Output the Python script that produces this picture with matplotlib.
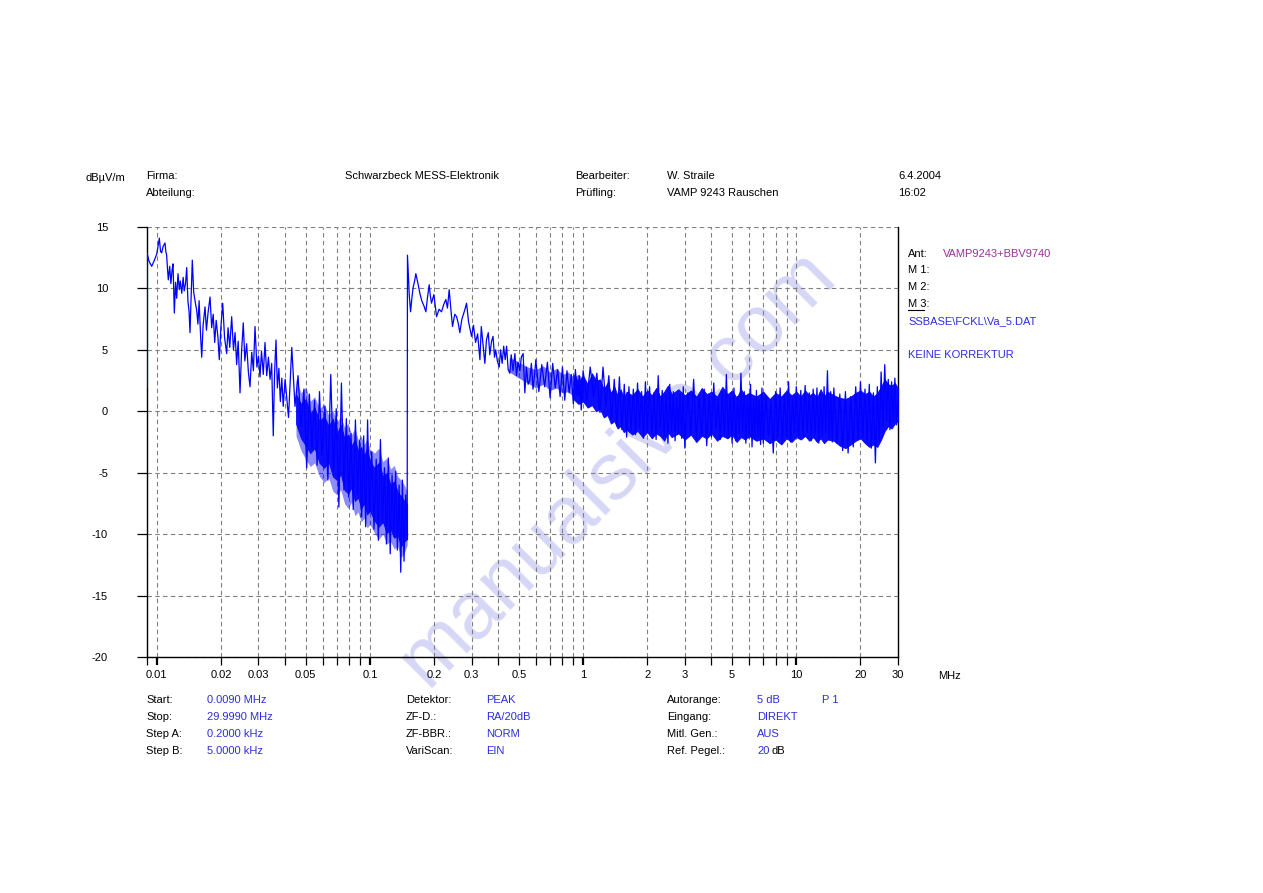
import matplotlib
matplotlib.use("Agg")
import matplotlib.pyplot as plt
from matplotlib.ticker import FixedLocator, FuncFormatter
from matplotlib.lines import Line2D

FREQ_A = [0.00900, 0.00900, 0.00920, 0.00947, 0.00975, 0.01000, 0.01028, 0.01042, 0.01055, 0.01070,
          0.01093, 0.01103, 0.01113, 0.01123, 0.01133, 0.01150, 0.01165, 0.01180, 0.01192, 0.01209,
          0.01225, 0.01240, 0.01258, 0.01275, 0.01290, 0.01310, 0.01330, 0.01345, 0.01365, 0.01382,
          0.01400, 0.01418, 0.01432, 0.01450, 0.01468, 0.01490, 0.01515, 0.01540, 0.01560, 0.01580,
          0.01605, 0.01625, 0.01650, 0.01684, 0.01710, 0.01740, 0.01778, 0.01810, 0.01840, 0.01870,
          0.01900, 0.01935, 0.01965, 0.02000, 0.02039, 0.02080, 0.02128, 0.02160, 0.02200, 0.02246,
          0.02290, 0.02330, 0.02370, 0.02410, 0.02458, 0.02500, 0.02546, 0.02590, 0.02640, 0.02690,
          0.02738, 0.02790, 0.02840, 0.02890, 0.02950, 0.03000, 0.03050, 0.03100, 0.03160, 0.03220,
          0.03280, 0.03340, 0.03400, 0.03460, 0.03520, 0.03570, 0.03625, 0.03680, 0.03740, 0.03800,
          0.03860, 0.03920]
LEVEL_A = [2.0, 12.9, 12.2, 11.8, 12.3, 12.8, 14.1, 13.0, 12.9, 13.4,
           13.7, 13.0, 12.7, 11.6, 10.7, 11.8, 10.4, 11.5, 12.0, 8.0,
           10.5, 9.2, 11.2, 9.9, 10.6, 9.6, 10.9, 9.8, 10.4, 11.7,
           9.0, 8.1, 6.4, 9.5, 12.3, 9.7, 8.9, 8.2, 7.1, 9.0,
           6.2, 4.4, 7.0, 8.5, 6.6, 8.0, 9.3, 6.8, 7.9, 5.6,
           7.4, 6.1, 4.2, 6.9, 8.8, 6.0, 4.7, 6.8, 5.2, 7.7,
           5.0, 6.4, 3.8, 5.7, 1.5, 4.9, 7.2, 4.1, 5.5, 3.2,
           2.0, 4.8, 3.3, 6.9, 3.6, 4.5, 2.8, 4.9, 3.0, 5.6,
           2.9, 4.4, 2.6, 3.9, -2.0, 3.1, 5.8, 1.9, 3.5, 0.8,
           2.7, 0.4]

FREQ_B = [0.0400, 0.0415, 0.0430, 0.0445, 0.0460, 0.0475, 0.0490, 0.0505, 0.0520, 0.0535,
          0.0550, 0.0565, 0.0580, 0.0595, 0.0615, 0.0635, 0.0655, 0.0675, 0.0695, 0.0715,
          0.0735, 0.0755, 0.0775, 0.0795, 0.0815, 0.0835, 0.0855, 0.0875, 0.0895, 0.0915,
          0.0935, 0.0955, 0.0975, 0.0995, 0.1020, 0.1045, 0.1070, 0.1095, 0.1120, 0.1145,
          0.1170, 0.1195, 0.1220, 0.1245, 0.1270, 0.1295, 0.1320, 0.1345, 0.1370, 0.1395,
          0.1420, 0.1445, 0.1470, 0.1495]
LEVEL_B = [2.6, -0.5, 5.2, 0.4, 2.9, -1.2, 1.8, -4.6, 1.4, -3.0,
           0.9, -4.4, 1.6, -3.6, 0.4, -5.6, 3.0, -5.0, 0.2, -7.8,
           2.3, -6.4, -0.6, -7.0, -1.8, -8.0, -0.7, -6.8, -2.4, -8.6,
           -2.0, -9.4, -0.7, -8.2, -3.3, -9.6, -3.9, -10.5, -2.3, -9.0,
           -4.6, -10.8, -3.8, -11.6, -5.2, -10.2, -4.9, -11.3, -6.0, -13.1,
           -5.6, -12.2, -6.8, -10.4]

FREQ_C = [0.1500, 0.1507, 0.1530, 0.1551, 0.1575, 0.1595, 0.1620, 0.1642, 0.1680, 0.1715,
          0.1750, 0.1790, 0.1830, 0.1860, 0.1896, 0.1920, 0.1945, 0.1995, 0.2054, 0.2110,
          0.2167, 0.2220, 0.2270, 0.2310, 0.2354, 0.2400, 0.2440, 0.2500, 0.2550, 0.2600,
          0.2640, 0.2700, 0.2780, 0.2840, 0.2900, 0.2997, 0.3060, 0.3130, 0.3200, 0.3280,
          0.3330, 0.3400, 0.3460, 0.3520, 0.3590, 0.3650, 0.3720, 0.3780, 0.3840, 0.3890,
          0.3960, 0.4040, 0.4100, 0.4170, 0.4240, 0.4310, 0.4375, 0.4450, 0.4530, 0.4600,
          0.4690, 0.4786, 0.4870, 0.4950, 0.5050, 0.5130, 0.5230, 0.5330, 0.5420, 0.5520,
          0.5620, 0.5720, 0.5820, 0.5930]
LEVEL_C = [12.7, 11.9, 9.4, 8.1, 9.3, 10.1, 10.6, 11.2, 10.4, 9.6,
           9.0, 8.6, 8.1, 9.2, 10.3, 9.4, 8.8, 9.5, 7.7, 8.3,
           8.1, 8.7, 9.1, 8.4, 9.9, 8.2, 6.9, 7.9, 7.7, 7.1,
           6.4, 7.5, 8.2, 8.8, 7.3, 6.1, 7.0, 5.6, 6.3, 4.2,
           6.9, 5.3, 3.9, 5.8, 6.4, 4.6, 5.7, 6.1, 4.4, 5.0,
           4.1, 3.6, 5.0, 3.9, 5.3, 4.2, 5.3, 3.4, 3.1, 4.6,
           3.3, 4.7, 2.9, 4.0, 3.3, 4.4, 4.7, 1.5, 3.6, 2.2,
           2.5, 3.9, 1.8, 3.1]

FREQ_D = [0.60, 0.62, 0.64, 0.66, 0.68, 0.70, 0.72, 0.74, 0.76, 0.78,
          0.80, 0.82, 0.84, 0.86, 0.88, 0.90, 0.92, 0.94, 0.96, 0.98,
          1.00,
          1.04, 1.08, 1.12, 1.16, 1.20, 1.24, 1.28, 1.32, 1.36, 1.40,
          1.44, 1.48, 1.52, 1.56, 1.60, 1.64, 1.68, 1.72, 1.76, 1.80,
          1.84, 1.88, 1.92, 1.96, 2.00,
          2.05, 2.10, 2.15, 2.20, 2.25, 2.30, 2.35, 2.40, 2.45, 2.50,
          2.55, 2.60, 2.65, 2.70, 2.75, 2.80, 2.85, 2.90, 2.95, 3.00,
          3.1, 3.2, 3.3, 3.4, 3.5, 3.6, 3.7, 3.8, 3.9, 4.0,
          4.1, 4.2, 4.3, 4.4, 4.5, 4.6, 4.7, 4.8, 4.9, 5.0,
          5.1, 5.2, 5.3, 5.4, 5.5, 5.6, 5.7, 5.8, 5.9, 6.0,
          6.1, 6.2, 6.3, 6.4, 6.5, 6.6, 6.7, 6.8, 6.9, 7.0,
          7.2, 7.4, 7.6, 7.8, 8.0, 8.2, 8.4, 8.6, 8.8, 9.0,
          9.2, 9.4, 9.6, 9.8, 10.0,
          10.25, 10.5, 10.75, 11.0, 11.25, 11.5, 11.75, 12.0, 12.25, 12.5,
          12.75, 13.0, 13.25, 13.5, 13.75, 14.0, 14.25, 14.5, 14.75, 15.0,
          15.5, 16.0, 16.5, 17.0, 17.5, 18.0, 18.5, 19.0, 19.5, 20.0,
          20.5, 21.0, 21.5, 22.0, 22.5, 23.0, 23.5, 24.0, 24.5, 25.0,
          25.5, 26.0, 26.5, 27.0, 27.5, 28.0, 28.5, 29.0, 29.5, 30.0]
LEVEL_D = [4.2, 1.6, 3.8, 2.0, 4.0, 1.1, 3.9, 1.9, 3.4, 1.2,
           3.6, 0.9, 3.3, 1.5, 3.0, 0.6, 3.4, 1.4, 2.9, 0.1,
           3.3,
           0.9, 3.6, 1.2, 3.1, -0.1, 3.6, 0.4, 2.9, -0.6, 2.6,
           -1.2, 2.8, -1.5, 2.2, -2.1, 2.0, -1.6, 1.8, -1.9, 2.3,
           -1.4, 1.6, -2.2, 2.4, -1.7,
           2.0, -1.8, 1.5, -2.3, 2.9, -1.4, 1.7, -2.0, 1.3, -2.6,
           2.2, -1.6, 1.6, -2.4, 1.1, -1.8, 1.4, -2.2, 2.0, -3.0,
           1.5, -1.9, 2.6, -2.5, 1.2, -2.0, 1.8, -2.8, 1.4, -2.1,
           2.3, -1.5, 1.0, -2.3, 1.6, -1.9, 3.0, -2.2, 1.3, -2.6,
           1.9, -2.4, 1.2, -1.8, 3.1, -1.7, 1.6, -2.6, 1.2, -2.2,
           2.2, -2.9, 1.0, -2.3, 1.7, -2.1, 0.9, -2.7, 1.9, -2.6,
           1.3, -2.0, 0.8, -3.4, 1.6, -2.1, 1.9, -2.6, 1.3, -2.0,
           2.4, -2.5, 1.1, -1.8, 2.0,
           -2.2, 1.7, -2.0, 2.1, -1.7, 1.5, -2.4, 1.8, -1.9, 1.9,
           -2.6, 1.4, -2.0, 2.0, -1.8, 3.3, -2.2, 1.6, -2.5, 1.9,
           -2.6, 1.4, -3.2, 1.6, -3.4, 1.2, -2.9, 2.0, -2.3, 2.4,
           -2.1, 1.8, -2.6, 2.2, -3.0, 1.5, -4.2, 2.0, -2.4, 3.2,
           -1.2, 3.8, -0.8, 2.6, -1.5, 2.4, -0.9, 2.7, -1.1, 0.6]

# dichter Rauschkern: obere / untere Kante des vollen Bandes
ENV_B_F = [0.0450, 0.0475, 0.0500, 0.0525, 0.0550, 0.0580, 0.0610, 0.0640, 0.0670, 0.0700,
           0.0730, 0.0760, 0.0790, 0.0820, 0.0850, 0.0880, 0.0910, 0.0940, 0.0970, 0.1000,
           0.1050, 0.1100, 0.1150, 0.1200, 0.1250, 0.1300, 0.1350, 0.1400, 0.1450, 0.1495]
ENV_B_HI = [1.4, 0.6, 1.0, -0.2, 0.3, -0.8, -0.4, -1.2, -0.6, -1.8,
            -1.1, -2.2, -1.9, -2.8, -2.3, -3.2, -2.9, -3.6, -3.0, -4.1,
            -4.6, -4.2, -5.3, -5.0, -6.0, -5.7, -6.6, -6.9, -7.3, -7.6]
ENV_B_LO = [-1.0, -2.2, -2.8, -3.4, -3.0, -4.2, -4.6, -4.1, -5.3, -5.6,
            -5.1, -6.4, -6.7, -6.2, -7.3, -7.0, -7.9, -7.5, -8.4, -8.1,
            -8.9, -9.4, -9.0, -9.9, -9.6, -10.3, -10.1, -11.0, -10.6, -10.4]
# lockerer Rand um den Kern
ENV_B_OUT_HI = [2.6, 1.5, 2.0, 0.8, 1.2, 0.2, 0.6, -0.3, 0.1, -0.9,
                -0.4, -1.3, -1.0, -1.9, -1.4, -2.3, -2.0, -2.7, -2.2, -3.1,
                -3.4, -3.0, -4.1, -3.8, -4.7, -4.4, -5.3, -5.6, -6.0, -6.5]
ENV_B_OUT_LO = [-2.0, -3.2, -3.9, -4.5, -4.2, -5.3, -5.8, -5.4, -6.5, -6.8,
                -6.4, -7.5, -7.9, -7.4, -8.5, -8.2, -9.0, -8.7, -9.5, -9.2,
                -9.9, -10.4, -10.0, -10.8, -10.6, -11.2, -11.0, -11.9, -11.5, -10.9]

ENV_C_F = [0.45, 0.50, 0.55, 0.60, 0.65, 0.70, 0.75, 0.80, 0.85, 0.90, 0.95, 1.00]
ENV_C_HI = [4.4, 4.0, 3.6, 3.4, 3.7, 3.2, 3.5, 3.0, 3.2, 2.8, 3.0, 2.7]
ENV_C_LO = [3.2, 2.7, 2.3, 1.9, 2.2, 1.7, 1.9, 1.5, 1.6, 1.2, 1.3, 1.0]

ENV_D_F = [0.90, 0.95, 1.00, 1.05, 1.10, 1.15, 1.20, 1.25, 1.30, 1.35, 1.40, 1.45, 1.50, 1.55,
           1.60, 1.70, 1.80, 1.90,
           2.0, 2.1, 2.2, 2.3, 2.4, 2.5, 2.6,
           2.8, 3.0, 3.2, 3.4, 3.6, 3.8,
           4.0, 4.25, 4.5, 4.75, 5.0, 5.25, 5.5, 5.75, 6.0,
           6.5, 7.0, 7.5, 8.0, 8.5, 9.0, 9.5, 10.0,
           10.5, 11.0, 11.5, 12.0, 12.5, 13.0, 13.5, 14.0,
           15, 16, 17, 18, 19, 20, 21, 22, 23, 24, 25, 26, 27, 28, 29, 30]
ENV_D_HI = [3.0, 2.4, 2.9, 2.2, 3.1, 2.5, 2.6, 1.8, 2.3, 1.5, 2.0, 1.3, 1.8, 1.1,
            1.6, 1.3, 1.8, 1.2,
            1.7, 1.3, 1.9, 1.2, 1.6, 2.1, 1.4,
            1.8, 1.3, 1.7, 1.2, 1.9, 1.4,
            1.6, 1.2, 2.0, 1.4, 1.7, 1.1, 1.8, 1.3, 1.5,
            1.2, 1.6, 1.0, 1.5, 1.2, 1.7, 1.3, 1.6,
            1.2, 1.7, 1.3, 1.5, 1.1, 1.8, 1.2, 1.6,
            1.3, 1.1, 1.0, 1.2, 1.5, 1.7, 1.4, 1.6, 1.2, 1.5, 2.0, 2.6, 2.2, 2.1, 2.3, 1.9]
ENV_D_LO = [1.0, 0.6, 0.8, 0.3, 0.5, 0.0, 0.2, -0.5, -0.3, -1.0, -0.8, -1.4, -1.2, -1.7,
            -1.5, -1.9, -1.6, -2.1,
            -1.7, -2.2, -1.8, -2.0, -2.4, -1.7, -2.1,
            -1.8, -2.3, -1.9, -2.5, -2.0, -2.2,
            -1.8, -2.4, -2.0, -2.2, -1.9, -2.5, -2.1, -2.3, -2.0,
            -2.4, -2.2, -2.6, -2.3, -2.7, -2.2, -2.5, -2.1,
            -2.3, -2.0, -2.4, -2.1, -2.5, -2.2, -2.6, -2.3,
            -2.4, -2.8, -3.0, -2.7, -2.4, -2.2, -2.6, -2.9, -2.7, -2.9, -2.3, -1.6, -1.2, -1.4, -1.0, -0.8]

XMAJOR = [0.01, 0.1, 1, 10]
XMAJOR_LABELS = ["0.01", "0.1", "1", "10"]
XMINOR = [0.009, 0.02, 0.03, 0.04, 0.05, 0.06, 0.07, 0.08, 0.09,
          0.2, 0.3, 0.4, 0.5, 0.6, 0.7, 0.8, 0.9,
          2, 3, 4, 5, 6, 7, 8, 9, 20, 30]
XMINOR_LABELS = {0.02: "0.02", 0.03: "0.03", 0.05: "0.05", 0.2: "0.2", 0.3: "0.3",
                 0.5: "0.5", 2: "2", 3: "3", 5: "5", 20: "20", 30: "30"}
YTICKS = [-20, -15, -10, -5, 0, 5, 10, 15]

BLAU = "#2d2de0"
LILA = "#993399"
KURVE = "#0000ff"
SCHRIFT = "Liberation Sans"
GR = 8

W, H = 1263, 893
fig = plt.figure(figsize=(W / 100, H / 100), dpi=100)
plt.rcParams["font.family"] = SCHRIFT


def txt(x, y, s, color="black", **kw):
    fig.text(x / W, 1 - y / H, s, color=color, fontsize=GR, va="center", ha="left", **kw)


ax = fig.add_axes([147 / W, 1 - 657 / H, (898 - 147) / W, (657 - 227) / H])
ax.patch.set_alpha(0)

freq = FREQ_A + FREQ_B + FREQ_C + FREQ_D
pegel = LEVEL_A + LEVEL_B + LEVEL_C + LEVEL_D
ax.fill_between(ENV_B_F, ENV_B_OUT_LO, ENV_B_OUT_HI, color=KURVE, lw=0, alpha=0.45, zorder=3)
ax.fill_between(ENV_B_F, ENV_B_LO, ENV_B_HI, color=KURVE, lw=0.6, alpha=0.9, zorder=3)
ax.fill_between(ENV_C_F, ENV_C_LO, ENV_C_HI, color=KURVE, lw=0, alpha=0.55, zorder=3)
ax.fill_between(ENV_D_F, ENV_D_LO, ENV_D_HI, color=KURVE, lw=0.6, alpha=0.95, zorder=3)
ax.plot(freq, pegel, color=KURVE, lw=0.9, zorder=3)

ax.set_xscale("log")
ax.set_xlim(0.009, 30)
ax.set_ylim(-20, 15)

ax.xaxis.set_major_locator(FixedLocator(XMAJOR))
ax.xaxis.set_major_formatter(FuncFormatter(
    lambda v, p: XMAJOR_LABELS[XMAJOR.index(min(XMAJOR, key=lambda m: abs(m - v)))]))
ax.xaxis.set_minor_locator(FixedLocator(XMINOR))
ax.xaxis.set_minor_formatter(FuncFormatter(
    lambda v, p: next((l for k, l in XMINOR_LABELS.items() if abs(k - v) < 1e-9 * max(1, k)), "")))
ax.set_yticks(YTICKS)
ax.set_yticklabels([str(t) for t in YTICKS])

ax.tick_params(axis="x", which="major", direction="out", length=6, width=1.6, pad=3, labelsize=GR)
ax.tick_params(axis="x", which="minor", direction="out", length=6, width=0.9, pad=3, labelsize=GR)
ax.tick_params(axis="y", which="major", direction="out", length=7, width=0.9, pad=21, labelsize=GR)

ax.grid(True, which="both", axis="x", color="#808080", lw=0.8, ls=(0, (4, 3)))
ax.grid(True, which="major", axis="y", color="#808080", lw=0.8, ls=(0, (4, 3)))
ax.spines["top"].set_visible(False)
for s in ["left", "bottom", "right"]:
    ax.spines[s].set_linewidth(1.0)
    ax.spines[s].set_color("black")

# Kopfzeile
txt(85, 178, "dBµV/m")
txt(146, 176, "Firma:")
txt(146, 193, "Abteilung:")
txt(345, 176, "Schwarzbeck MESS-Elektronik")
txt(575, 176, "Bearbeiter:")
txt(575, 193, "Prüfling:")
txt(667, 176, "W. Straile")
txt(667, 193, "VAMP 9243 Rauschen")
txt(898, 176, "6.4.2004")
txt(898, 193, "16:02")

# rechte Spalte
txt(908, 254, "Ant:")
txt(943, 254, "VAMP9243+BBV9740", color=LILA)
txt(908, 270, "M 1:")
txt(908, 287, "M 2:")
txt(908, 304, "M 3:")
fig.add_artist(Line2D([908 / W, 924 / W], [1 - 310 / H, 1 - 310 / H], color="black", lw=0.8))
txt(908, 321, "SSBASE\\FCKL\\Va_5.DAT", color=BLAU)
txt(908, 355, "KEINE KORREKTUR", color=BLAU)

txt(938, 676, "MHz")

# Fusszeile
txt(146, 700, "Start:")
txt(146, 717, "Stop:")
txt(146, 734, "Step A:")
txt(146, 751, "Step B:")
txt(207, 700, "0.0090 MHz", color=BLAU)
txt(207, 717, "29.9990 MHz", color=BLAU)
txt(207, 734, "0.2000 kHz", color=BLAU)
txt(207, 751, "5.0000 kHz", color=BLAU)

txt(406, 700, "Detektor:")
txt(406, 717, "ZF-D.:")
txt(406, 734, "ZF-BBR.:")
txt(406, 751, "VariScan:")
txt(486, 700, "PEAK", color=BLAU)
txt(486, 717, "RA/20dB", color=BLAU)
txt(486, 734, "NORM", color=BLAU)
txt(486, 751, "EIN", color=BLAU)

txt(667, 700, "Autorange:")
txt(667, 717, "Eingang:")
txt(667, 734, "Mitl. Gen.:")
txt(667, 751, "Ref. Pegel.:")
txt(757, 700, "5 dB", color=BLAU)
txt(822, 700, "P 1", color=BLAU)
txt(757, 717, "DIREKT", color=BLAU)
txt(757, 734, "AUS", color=BLAU)
txt(757, 751, "20", color=BLAU)
txt(771, 751, "dB")

# Wasserzeichen
fig.text(618 / W, 1 - 468 / H, "manualsive.com", fontsize=58, color="#d6d6f6",
         rotation=45, ha="center", va="center", zorder=-1, family=SCHRIFT)

fig.savefig("out.png", dpi=100)
